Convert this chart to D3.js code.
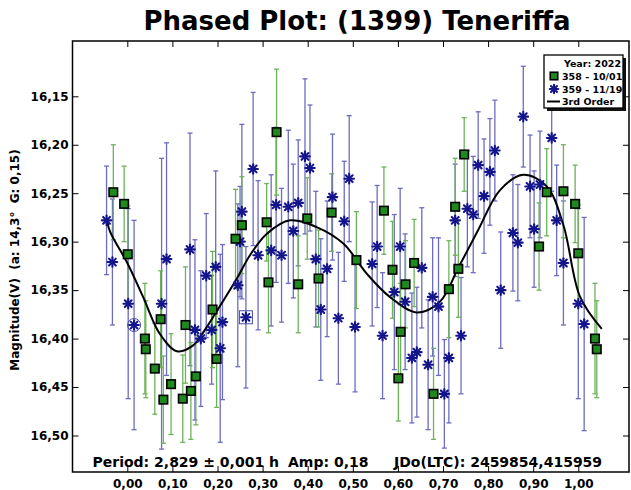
<!DOCTYPE html>
<html><head><meta charset="utf-8">
<script src="https://cdn.jsdelivr.net/npm/d3@7"></script>
<style>
body{margin:0;background:#fff}
text{font-family:"DejaVu Sans",sans-serif;font-weight:bold;fill:#000}
</style>
</head><body>
<svg id="c" width="631" height="490"></svg>
<script>
// ---------- data ----------
const titleText = "Phased Plot: (1399) Teneriffa";
const yLabel = "Magnitude(V)  (a: 14,3°  G: 0,15)";
const infoPeriod = "Period: 2,829 ± 0,001 h";
const infoAmp = "Amp: 0,18";
const infoJD = "JDo(LTC): 2459854,415959";
const legendTitle = "Year: 2022";
const legendLabels = ["358 - 10/01", "359 - 11/19", "3rd Order"];

const xTicks = [0,0.1,0.2,0.3,0.4,0.5,0.6,0.7,0.8,0.9,1.0];
const yTicks = [16.15,16.20,16.25,16.30,16.35,16.40,16.45,16.50];

// session 358 (green squares)
const phase358 = [-0.031,-0.007,0.001,0.039,0.041,0.061,0.074,0.080,0.097,0.123,0.129,0.141,0.152,0.189,0.198,0.240,0.254,0.309,0.313,0.331,0.379,0.399,0.424,0.453,0.508,0.569,0.588,0.601,0.606,0.617,0.636,0.679,0.713,0.727,0.734,0.747,0.913,0.930,0.967,0.993,1.000,1.037,1.041];
const mag358 = [16.249,16.261,16.313,16.400,16.411,16.431,16.380,16.463,16.447,16.462,16.386,16.454,16.439,16.370,16.421,16.297,16.283,16.280,16.342,16.187,16.344,16.276,16.338,16.270,16.319,16.268,16.329,16.441,16.393,16.344,16.322,16.457,16.349,16.264,16.328,16.210,16.305,16.249,16.248,16.261,16.312,16.400,16.411];
const err358 = [0.049,0.039,0.050,0.057,0.050,0.047,0.050,0.045,0.052,0.045,0.060,0.050,0.050,0.060,0.050,0.051,0.050,0.040,0.052,0.065,0.050,0.042,0.050,0.040,0.050,0.045,0.050,0.044,0.050,0.045,0.045,0.047,0.050,0.050,0.050,0.038,0.045,0.045,0.048,0.040,0.050,0.057,0.050];

// session 359 (blue asterisks)
const phase359 = [-0.046,-0.033,0.002,0.015,0.076,0.087,0.139,0.150,0.163,0.175,0.187,0.196,0.206,0.211,0.245,0.250,0.254,0.263,0.279,0.290,0.319,0.330,0.342,0.357,0.368,0.379,0.394,0.405,0.418,0.429,0.443,0.455,0.468,0.481,0.492,0.505,0.543,0.554,0.566,0.592,0.605,0.616,0.631,0.642,0.653,0.667,0.677,0.690,0.703,0.713,0.727,0.740,0.754,0.767,0.778,0.791,0.804,0.815,0.828,0.855,0.866,0.878,0.893,0.902,0.915,0.941,0.952,0.967,1.000,1.013];
const mag359 = [16.278,16.321,16.364,16.386,16.364,16.318,16.308,16.391,16.400,16.335,16.391,16.326,16.410,16.383,16.345,16.300,16.269,16.378,16.225,16.314,16.309,16.262,16.314,16.264,16.289,16.260,16.212,16.224,16.318,16.370,16.328,16.254,16.379,16.279,16.235,16.388,16.323,16.305,16.397,16.352,16.305,16.362,16.420,16.414,16.327,16.427,16.357,16.367,16.457,16.420,16.278,16.397,16.266,16.272,16.221,16.253,16.228,16.206,16.350,16.291,16.301,16.171,16.243,16.287,16.241,16.193,16.278,16.322,16.364,16.385];
const err359 = [0.056,0.065,0.098,0.108,0.150,0.120,0.120,0.093,0.070,0.064,0.056,0.099,0.097,0.080,0.084,0.057,0.090,0.073,0.079,0.077,0.078,0.080,0.069,0.079,0.069,0.065,0.080,0.065,0.070,0.073,0.070,0.065,0.068,0.062,0.065,0.067,0.064,0.063,0.065,0.080,0.060,0.070,0.067,0.067,0.062,0.067,0.061,0.071,0.056,0.067,0.058,0.060,0.060,0.060,0.055,0.059,0.055,0.052,0.060,0.060,0.060,0.052,0.053,0.060,0.055,0.055,0.057,0.064,0.098,0.110];
const circled359 = [3];
const boxed359 = [17];

// 3rd order fit curve
const fitPhase = [-0.045,-0.038,0.000,0.035,0.072,0.110,0.146,0.172,0.198,0.243,0.272,0.309,0.361,0.420,0.479,0.531,0.582,0.642,0.693,0.734,0.778,0.826,0.878,0.930,0.967,1.004,1.052];
const fitMag = [16.278,16.290,16.322,16.357,16.395,16.413,16.407,16.391,16.372,16.338,16.314,16.292,16.278,16.285,16.302,16.333,16.357,16.373,16.362,16.327,16.288,16.247,16.231,16.243,16.283,16.357,16.390];

// ---------- drawing ----------
const svg = d3.select("#c");
const P = {l:72.5, t:41, r:629, b:472};
const x = d3.scaleLinear().domain([0,1]).range([127.3,578.3]);
const y = d3.scaleLinear().domain([16.15,16.50]).range([96.3,435.5]);

const fmt = d => d.toFixed(2).replace(".", ",");

// title
svg.append("text").attr("x",357).attr("y",30).attr("text-anchor","middle")
  .style("font-size","26px").text(titleText);

// y label
svg.append("text").attr("transform","translate(19,260) rotate(-90)")
  .attr("text-anchor","middle").style("font-size","12px").style("white-space","pre")
  .text(yLabel);

const gAx = svg.append("g");
const bx = gAx.append("g").attr("transform",`translate(0,${P.b})`)
  .call(d3.axisBottom(x).tickValues(xTicks).tickSize(-6).tickPadding(7).tickFormat(fmt));
bx.select(".domain").remove();
bx.selectAll("text").style("font-size","12px").style("font-family","DejaVu Sans").style("font-weight","bold");
const tx = gAx.append("g").attr("transform",`translate(0,${P.t})`)
  .call(d3.axisTop(x).tickValues(xTicks).tickSize(-6).tickFormat(""));
tx.select(".domain").remove();
const ly = gAx.append("g").attr("transform",`translate(${P.l},0)`)
  .call(d3.axisLeft(y).tickValues(yTicks).tickSize(-6).tickPadding(4).tickFormat(fmt));
ly.select(".domain").remove();
ly.selectAll("text").style("font-size","12px").style("font-family","DejaVu Sans").style("font-weight","bold");
const ry = gAx.append("g").attr("transform",`translate(${P.r},0)`)
  .call(d3.axisRight(y).tickValues(yTicks).tickSize(-6).tickFormat(""));
ry.select(".domain").remove();
gAx.selectAll(".tick line").attr("stroke","#000").attr("stroke-width",1);

svg.append("rect").attr("x",P.l).attr("y",P.t).attr("width",P.r-P.l).attr("height",P.b-P.t)
  .attr("fill","none").attr("stroke","#000").attr("stroke-width",1.5);

const s358 = phase358.map((p,i)=>({p, m:mag358[i], e:err358[i]}));
const s359 = phase359.map((p,i)=>({p, m:mag359[i], e:err359[i], i}));

function bars(data, color){
  const g = svg.append("g").attr("stroke",color).attr("stroke-width",1.3).attr("fill","none");
  data.forEach(d=>{
    const cx = x(d.p), y1 = y(d.m-d.e), y2 = y(d.m+d.e);
    g.append("line").attr("x1",cx).attr("x2",cx).attr("y1",y1).attr("y2",y2);
    g.append("line").attr("x1",cx-2.5).attr("x2",cx+2.5).attr("y1",y1).attr("y2",y1);
    g.append("line").attr("x1",cx-2.5).attr("x2",cx+2.5).attr("y1",y2).attr("y2",y2);
  });
}
bars(s359, "#6c6cc0");
bars(s358, "#6db35a");

const line = d3.line().x((d,i)=>x(fitPhase[i])).y((d,i)=>y(fitMag[i])).curve(d3.curveCatmullRom);
svg.append("path").datum(fitPhase).attr("d",line).attr("fill","none")
  .attr("stroke","#000").attr("stroke-width",2);

function asterisk(g, cx, cy, r){
  const a = g.append("g").attr("transform",`translate(${cx},${cy})`)
    .attr("stroke","#14148c").attr("stroke-width",2.1).attr("stroke-linecap","round");
  [0,45,90,135].forEach(deg=>{
    const t = deg*Math.PI/180;
    a.append("line").attr("x1",-r*Math.cos(t)).attr("y1",-r*Math.sin(t))
      .attr("x2",r*Math.cos(t)).attr("y2",r*Math.sin(t));
  });
}
function square(g, cx, cy, s){
  g.append("rect").attr("x",cx-s/2).attr("y",cy-s/2).attr("width",s).attr("height",s)
    .attr("fill","#1e8a1e").attr("stroke","#000").attr("stroke-width",1.6);
}

const gm = svg.append("g");
s359.forEach(d=>asterisk(gm, x(d.p), y(d.m), 4.8));
s358.forEach(d=>square(gm, x(d.p), y(d.m), 8.5));
circled359.forEach(i=>{
  gm.append("circle").attr("cx",x(phase359[i])).attr("cy",y(mag359[i])).attr("r",6.5)
    .attr("fill","none").attr("stroke","#4a4aa8").attr("stroke-width",1);
});
boxed359.forEach(i=>{
  gm.append("rect").attr("x",x(phase359[i])-6.5).attr("y",y(mag359[i])-6.5).attr("width",13).attr("height",13)
    .attr("fill","none").attr("stroke","#4a4aa8").attr("stroke-width",1);
});

const info = svg.append("g");
info.append("text").attr("x",92.5).attr("y",467).style("font-size","14px").text(infoPeriod);
info.append("text").attr("x",288).attr("y",467).style("font-size","14px").text(infoAmp);
info.append("text").attr("x",394).attr("y",467).style("font-size","14px").text(infoJD);

const L = {x:544, y:55, w:79, h:53};
svg.append("rect").attr("x",L.x+3).attr("y",L.y+3).attr("width",L.w).attr("height",L.h).attr("fill","#111");
svg.append("rect").attr("x",L.x).attr("y",L.y).attr("width",L.w).attr("height",L.h)
  .attr("fill","#fff").attr("stroke","#000").attr("stroke-width",1.3);
svg.append("text").attr("x",L.x+L.w-2).attr("y",L.y+12).attr("text-anchor","end")
  .style("font-size","9.5px").text(legendTitle);
const rowsY = [L.y+24.5, L.y+37.5, L.y+50];
legendLabels.forEach((lab,i)=>{
  svg.append("text").attr("x",L.x+18).attr("y",rowsY[i]).style("font-size","9.5px").text(lab);
});
square(svg, L.x+10, rowsY[0]-3.5, 7.5);
asterisk(svg, L.x+10, rowsY[1]-3.5, 4.2);
svg.append("line").attr("x1",L.x+3).attr("x2",L.x+16).attr("y1",rowsY[2]-3.5).attr("y2",rowsY[2]-3.5)
  .attr("stroke","#000").attr("stroke-width",2);
</script>
</body></html>
